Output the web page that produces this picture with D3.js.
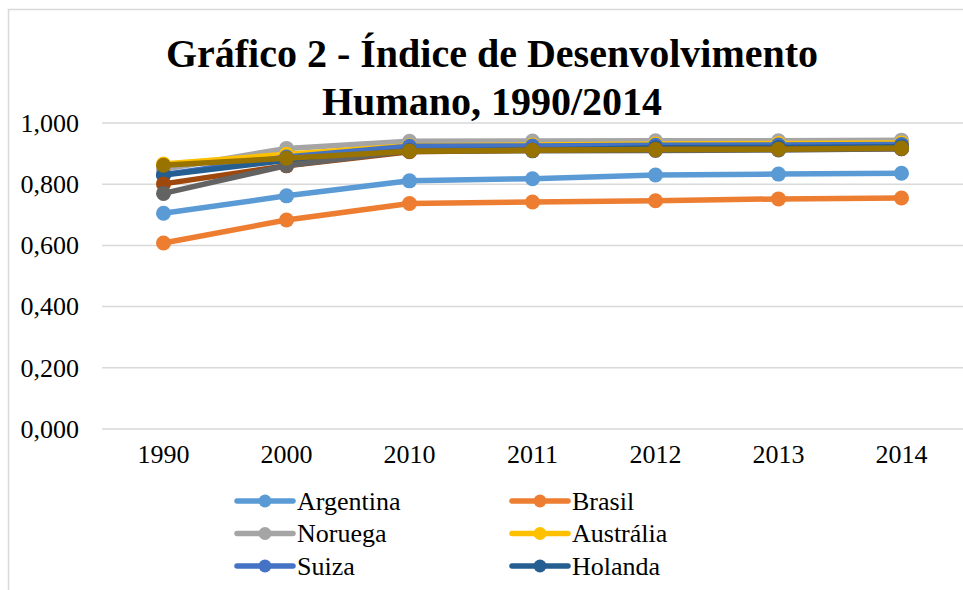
<!DOCTYPE html>
<html>
<head>
<meta charset="utf-8">
<script src="https://cdn.jsdelivr.net/npm/d3@7"></script>
<style>
  html, body { margin: 0; padding: 0; background: #fff; overflow: hidden; }
  svg { display: block; }
  text { font-family: "Liberation Serif", "Times New Roman", serif; fill: #000; }
</style>
</head>
<body>
<svg id="chart" width="963" height="590"></svg>
<script>
const years = ["1990", "2000", "2010", "2011", "2012", "2013", "2014"];
const seriesNames = ["Argentina", "Brasil", "Noruega", "Austrália", "Suiza", "Holanda", "Alemanha", "Irlanda", "Estados Unidos"];
const seriesColors = ["#5B9BD5", "#ED7D31", "#A5A5A5", "#FFC000", "#4472C4", "#255E91", "#9E480E", "#636363", "#997300"];
const argentina = [0.705, 0.762, 0.811, 0.818, 0.830, 0.833, 0.836];
const brasil    = [0.608, 0.683, 0.737, 0.742, 0.746, 0.752, 0.755];
const noruega   = [0.849, 0.917, 0.940, 0.941, 0.942, 0.942, 0.944];
const australia = [0.866, 0.898, 0.926, 0.928, 0.931, 0.933, 0.935];
const suiza     = [0.831, 0.889, 0.924, 0.925, 0.927, 0.928, 0.930];
const holanda   = [0.830, 0.878, 0.909, 0.911, 0.919, 0.920, 0.922];
const alemanha  = [0.801, 0.860, 0.906, 0.911, 0.913, 0.914, 0.916];
const irlanda   = [0.770, 0.861, 0.909, 0.909, 0.910, 0.912, 0.916];
const eua       = [0.862, 0.885, 0.908, 0.911, 0.913, 0.914, 0.918];
const seriesValues = [argentina, brasil, noruega, australia, suiza, holanda, alemanha, irlanda, eua];
const legendVisibleCount = 6; // the reference's legend is cropped after six entries
const yTicks = [0, 0.2, 0.4, 0.6, 0.8, 1.0];
const titleLines = ["Gráfico 2 - Índice de Desenvolvimento", "Humano, 1990/2014"];

const svg = d3.select("#chart");
const plotLeft = 102, plotRight = 963, plotTop = 123, plotBottom = 429;

// chart area border (cropped at right/bottom)
svg.append("rect")
  .attr("x", 8.5).attr("y", 9.5)
  .attr("width", 1000).attr("height", 1000)
  .attr("fill", "#fff").attr("stroke", "#D9D9D9").attr("stroke-width", 1.5);

// title
const title = svg.append("text")
  .attr("text-anchor", "middle")
  .style("font-size", "40px").style("font-weight", "bold");
titleLines.forEach((t, i) => {
  title.append("tspan").attr("x", 492).attr("y", 67 + i * 48).text(t);
});

const x = d3.scaleBand().domain(years).range([plotLeft, plotRight]);
const y = d3.scaleLinear().domain([0, 1]).range([plotBottom, plotTop]);

// gridlines
svg.append("g").selectAll("line").data(yTicks).join("line")
  .attr("x1", plotLeft).attr("x2", plotRight)
  .attr("y1", d => y(d)).attr("y2", d => y(d))
  .attr("stroke", "#D9D9D9").attr("stroke-width", 1.5);

const fmt = d => d3.format(".3f")(d).replace(".", ",");

// y axis
const yAxis = svg.append("g").attr("transform", `translate(${plotLeft - 23},0)`)
  .call(d3.axisLeft(y).tickValues(yTicks).tickFormat(fmt).tickSize(0).tickPadding(0));
yAxis.select(".domain").remove();
yAxis.selectAll("text").style("font-size", "26px")
  .style("font-family", "'Liberation Serif', 'Times New Roman', serif").attr("fill", "#000");

// x axis
const xAxis = svg.append("g").attr("transform", `translate(0,${plotBottom})`)
  .call(d3.axisBottom(x).tickSize(0).tickPadding(16));
xAxis.select(".domain").remove();
xAxis.selectAll("text").style("font-size", "26px")
  .style("font-family", "'Liberation Serif', 'Times New Roman', serif").attr("fill", "#000");

// series
const line = d3.line().x((d, i) => x(years[i]) + x.bandwidth() / 2).y(d => y(d));
seriesValues.forEach((vals, si) => {
  const g = svg.append("g");
  g.append("path").datum(vals).attr("d", line)
    .attr("fill", "none").attr("stroke", seriesColors[si])
    .attr("stroke-width", 5.5).attr("stroke-linejoin", "round").attr("stroke-linecap", "round");
  g.selectAll("circle").data(vals).join("circle")
    .attr("cx", (d, i) => x(years[i]) + x.bandwidth() / 2)
    .attr("cy", d => y(d)).attr("r", 7.5)
    .attr("fill", seriesColors[si]);
});

// legend (2 columns)
const legendCols = [237, 512];
const legendRowY = 501, legendRowStep = 32.5;
seriesNames.slice(0, legendVisibleCount).forEach((name, i) => {
  const cx = legendCols[i % 2];
  const cy = legendRowY + Math.floor(i / 2) * legendRowStep;
  const g = svg.append("g");
  g.append("line").attr("x1", cx).attr("x2", cx + 56).attr("y1", cy).attr("y2", cy)
    .attr("stroke", seriesColors[i]).attr("stroke-width", 5.5).attr("stroke-linecap", "round");
  g.append("circle").attr("cx", cx + 28).attr("cy", cy).attr("r", 6.5).attr("fill", seriesColors[i]);
  g.append("text").attr("x", cx + 60).attr("y", cy + 8.5)
    .style("font-size", "26px").text(name);
});
</script>
</body>
</html>
